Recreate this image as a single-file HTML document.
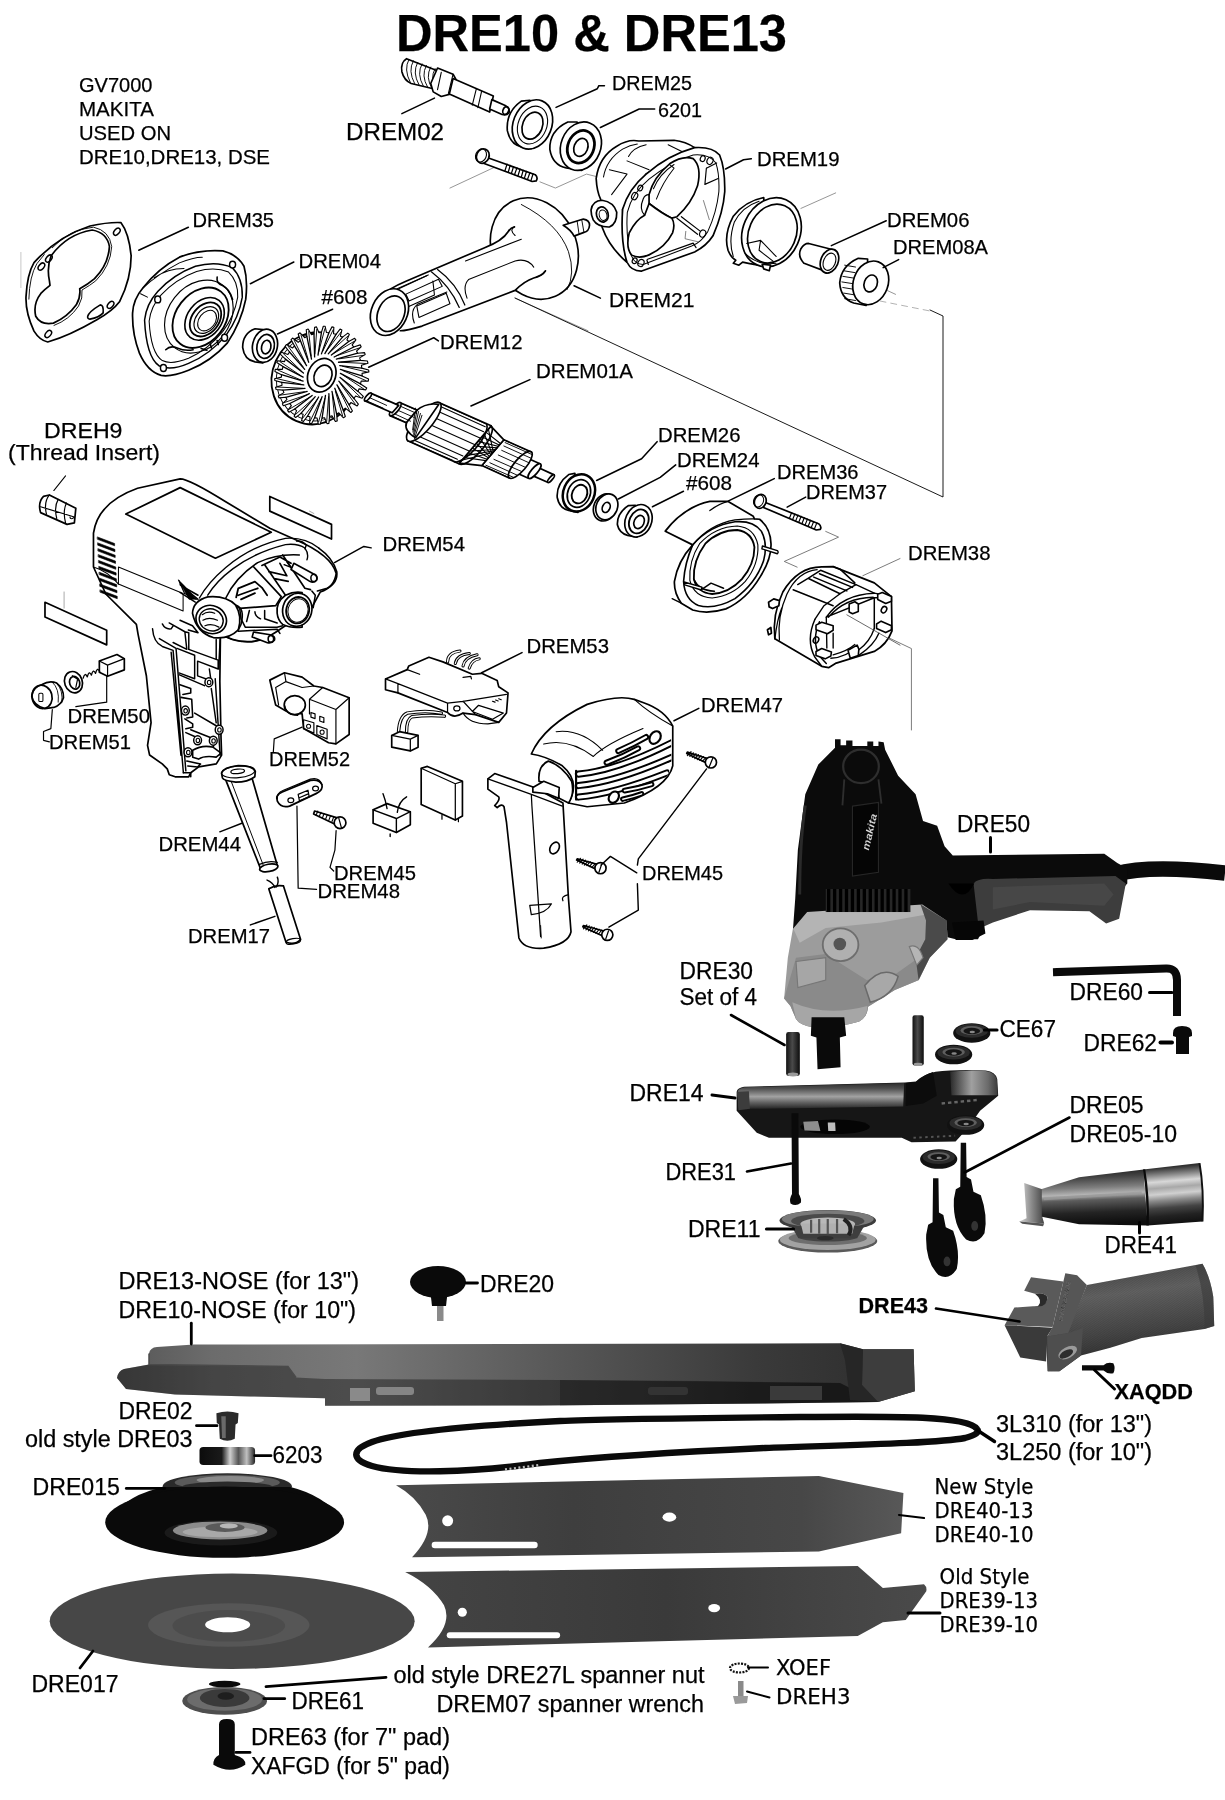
<!DOCTYPE html>
<html lang="en"><head><meta charset="utf-8"><title>DRE10 &amp; DRE13 parts diagram</title>
<style>
html,body{margin:0;padding:0;background:#fff}
body{width:1225px;height:1800px;overflow:hidden}
svg{display:block}
text{font-family:"Liberation Sans",sans-serif;fill:#000;stroke:#000;stroke-width:0.25px}
svg{will-change:transform}
.dj{font-family:"DejaVu Sans","Liberation Sans",sans-serif}
.b{font-weight:bold}
.l{stroke:#000;fill:none;stroke-linecap:round;stroke-linejoin:round}
.o{stroke:#000;fill:#fff;stroke-linejoin:round;stroke-linecap:round}
</style></head><body>
<svg width="1225" height="1800" viewBox="0 0 1225 1800">
<!-- 10_topleft.svg -->
<g transform="translate(10,200) scale(0.3102)" class="l" stroke-width="5.4">
</g><g transform="translate(10,210) scale(0.11429)" class="l" stroke-width="15">
<path class="o" d="M140,760 Q150,560 210,460 Q420,230 700,140 Q860,105 970,110 Q1040,200 1060,400 Q1060,600 960,800 Q900,880 760,960 Q520,1100 330,1155 Q260,1140 210,1060 Q135,900 140,760 Z"/>
<path class="o" d="M360,400 Q500,210 720,175 Q850,200 870,320 Q860,480 740,600 Q680,650 610,690 Q620,760 580,830 Q500,940 380,990 Q270,1010 225,930 Q200,820 270,730 Q310,690 350,660 L345,620 Q320,500 360,400 Z"/>
<path d="M370,330 Q520,170 730,150 Q870,180 890,320 Q880,490 750,620 Q700,660 630,700 Q640,770 600,840 Q520,960 385,1010 M165,780 Q170,580 235,470 L300,390" stroke-width="8"/>
<ellipse cx="935" cy="190" rx="22" ry="36" transform="rotate(40 935 190)" stroke-width="13"/>
<ellipse cx="275" cy="495" rx="22" ry="36" transform="rotate(40 275 495)" stroke-width="13"/>
<ellipse cx="340" cy="425" rx="22" ry="36" transform="rotate(40 340 425)" stroke-width="13"/>
<ellipse cx="880" cy="830" rx="22" ry="36" transform="rotate(40 880 830)" stroke-width="13"/>
<ellipse cx="335" cy="1085" rx="22" ry="36" transform="rotate(40 335 1085)" stroke-width="13"/>
<path d="M680,930 Q690,890 790,830 Q820,830 815,900 Q780,940 700,955 Q675,950 680,930 Z" stroke-width="14"/>
</g><g transform="translate(10,200) scale(0.3102)" class="l" stroke-width="5.4">
</g><g transform="translate(120,240) scale(0.11429)" class="l" stroke-width="15">
<path class="o" d="M110,640 Q115,520 200,420 Q330,250 520,150 Q700,80 900,95 Q1030,130 1085,230 Q1120,350 1100,520 Q1060,720 940,900 Q800,1060 600,1140 Q450,1200 360,1185 Q240,1150 170,990 Q105,820 110,640 Z"/>
<path d="M215,700 Q230,560 330,450 Q470,300 660,230 Q840,180 980,240 Q1075,330 1070,500 Q1040,680 930,830 Q790,1000 600,1080 Q440,1150 340,1100 Q230,1020 215,700 Z" stroke-width="13"/>
<path d="M255,710 Q270,580 360,480 Q490,340 670,275 Q830,230 950,280 Q1035,360 1030,500 Q1000,670 900,800 Q770,960 600,1035 Q450,1095 370,1055 Q270,990 255,710 Z" stroke-width="9"/>
<path d="M200,420 Q330,300 520,200 Q640,150 720,150 M300,330 Q420,250 560,250 M180,470 L240,500" stroke-width="9"/>
<ellipse cx="690" cy="670" rx="270" ry="345" transform="rotate(38 690 670)" stroke-width="10"/>
<ellipse cx="705" cy="680" rx="215" ry="290" transform="rotate(38 705 680)" stroke-width="16"/>
<ellipse cx="740" cy="690" rx="150" ry="205" transform="rotate(38 740 690)" stroke-width="14"/>
<ellipse cx="748" cy="695" rx="118" ry="165" transform="rotate(38 748 695)" stroke-width="16"/>
<ellipse cx="755" cy="700" rx="92" ry="130" transform="rotate(38 755 700)" stroke-width="10"/>
<ellipse cx="762" cy="705" rx="70" ry="100" transform="rotate(38 762 705)" stroke-width="9"/>
<path d="M850,325 Q840,380 900,400 Q960,430 985,520 M400,960 Q440,920 500,945 Q570,975 640,960 M790,910 L800,945 M850,880 L860,915 M710,950 L760,965" stroke-width="14"/>
<ellipse class="o" cx="985" cy="215" rx="26" ry="30" stroke-width="13"/>
<ellipse class="o" cx="330" cy="520" rx="26" ry="30" stroke-width="13"/>
<ellipse class="o" cx="380" cy="1120" rx="26" ry="30" stroke-width="13"/>
<ellipse class="o" cx="915" cy="855" rx="26" ry="30" stroke-width="13"/>
</g><g transform="translate(10,200) scale(0.3102)" class="l" stroke-width="5.4">
<path class="o" d="M815,418 L790,415 Q750,430 750,475 Q755,515 790,522 L815,525 Z"/>
<ellipse class="o" cx="822" cy="470" rx="40" ry="54" transform="rotate(12 822 470)"/>
<ellipse cx="824" cy="472" rx="28" ry="39" transform="rotate(12 824 472)" stroke-width="5.5"/>
<ellipse cx="826" cy="474" rx="15" ry="22" transform="rotate(12 826 474)"/>
<ellipse class="o" cx="983" cy="575" rx="138" ry="150" transform="rotate(24 983 575)" stroke-width="6"/>
<ellipse cx="993" cy="570" rx="132" ry="144" transform="rotate(24 993 570)" stroke-width="3"/>
<path class="o" d="M1122,617 L1139,633 L1135,639 L1114,632 L1109,640 L1123,658 L1119,664 L1099,653 L1093,660 L1104,680 L1099,685 L1081,671 L1074,677 L1081,698 L1075,702 L1060,686 L1053,690 L1055,712 L1049,714 L1038,696 L1030,698 L1028,720 L1022,721 L1014,702 L1006,703 L1000,723 L994,723 L990,703 L982,702 L972,721 L966,720 L967,699 L959,697 L946,714 L940,711 L945,691 L938,688 L921,701 L916,697 L924,679 L918,674 L899,684 L895,679 L907,663 L902,656 L881,663 L878,657 L893,643 L889,636 L867,638 L865,632 L883,621 L880,613 L858,611 L856,604 L877,597 L876,588 L854,582 L853,576 L875,571 L875,563 L854,553 L855,546 L878,546 L880,537 L860,524 L863,518 L885,521 L888,513 L871,497 L875,491 L896,498 L901,490 L887,472 L891,466 L911,477 L917,470 L906,450 L911,445 L929,459 L936,453 L929,432 L935,428 L950,444 L957,440 L955,418 L961,416 L972,434 L980,432 L982,410 L988,409 L996,428 L1004,427 L1010,407 L1016,407 L1020,427 L1028,428 L1038,409 L1044,410 L1043,431 L1051,433 L1064,416 L1070,419 L1065,439 L1072,442 L1089,429 L1094,433 L1086,451 L1092,456 L1111,446 L1115,451 L1103,467 L1108,474 L1129,467 L1132,473 L1117,487 L1121,494 L1143,492 L1145,498 L1127,509 L1130,517 L1152,519 L1154,526 L1133,533 L1134,542 L1156,548 L1157,554 L1135,559 L1135,567 L1156,577 L1155,584 L1132,584 L1130,593 L1150,606 L1147,612 L1125,609 Z" stroke-width="3.6"/>
<path d="M1064,572 L1122,617" stroke-width="4.2"/>
<path d="M1070,578 L1129,635" stroke-width="3"/>
<path d="M1060,584 L1109,640" stroke-width="4.2"/>
<path d="M1065,592 L1113,658" stroke-width="3"/>
<path d="M1054,596 L1093,660" stroke-width="4.2"/>
<path d="M1058,605 L1094,678" stroke-width="3"/>
<path d="M1047,607 L1074,677" stroke-width="4.2"/>
<path d="M1049,617 L1072,695" stroke-width="3"/>
<path d="M1038,617 L1053,690" stroke-width="4.2"/>
<path d="M1039,627 L1047,706" stroke-width="3"/>
<path d="M1028,624 L1030,698" stroke-width="4.2"/>
<path d="M1027,634 L1021,713" stroke-width="3"/>
<path d="M1017,630 L1006,703" stroke-width="4.2"/>
<path d="M1015,640 L995,715" stroke-width="3"/>
<path d="M1006,634 L982,702" stroke-width="4.2"/>
<path d="M1002,642 L968,712" stroke-width="3"/>
<path d="M995,635 L959,697" stroke-width="4.2"/>
<path d="M990,643 L943,704" stroke-width="3"/>
<path d="M984,634 L938,688" stroke-width="4.2"/>
<path d="M978,640 L921,691" stroke-width="3"/>
<path d="M974,630 L918,674" stroke-width="4.2"/>
<path d="M967,635 L901,674" stroke-width="3"/>
<path d="M965,624 L902,656" stroke-width="4.2"/>
<path d="M957,628 L884,653" stroke-width="3"/>
<path d="M958,617 L889,636" stroke-width="4.2"/>
<path d="M949,618 L872,629" stroke-width="3"/>
<path d="M951,607 L880,613" stroke-width="4.2"/>
<path d="M943,607 L864,603" stroke-width="3"/>
<path d="M947,596 L876,588" stroke-width="4.2"/>
<path d="M938,594 L861,576" stroke-width="3"/>
<path d="M945,584 L875,563" stroke-width="4.2"/>
<path d="M937,580 L863,548" stroke-width="3"/>
<path d="M945,571 L880,537" stroke-width="4.2"/>
<path d="M937,566 L870,521" stroke-width="3"/>
<path d="M946,558 L888,513" stroke-width="4.2"/>
<path d="M940,552 L881,495" stroke-width="3"/>
<path d="M950,546 L901,490" stroke-width="4.2"/>
<path d="M945,538 L897,472" stroke-width="3"/>
<path d="M956,534 L917,470" stroke-width="4.2"/>
<path d="M952,525 L916,452" stroke-width="3"/>
<path d="M963,523 L936,453" stroke-width="4.2"/>
<path d="M961,513 L938,435" stroke-width="3"/>
<path d="M972,513 L957,440" stroke-width="4.2"/>
<path d="M971,503 L963,424" stroke-width="3"/>
<path d="M982,506 L980,432" stroke-width="4.2"/>
<path d="M983,496 L989,417" stroke-width="3"/>
<path d="M993,500 L1004,427" stroke-width="4.2"/>
<path d="M995,490 L1015,415" stroke-width="3"/>
<path d="M1004,496 L1028,428" stroke-width="4.2"/>
<path d="M1008,488 L1042,418" stroke-width="3"/>
<path d="M1015,495 L1051,433" stroke-width="4.2"/>
<path d="M1020,487 L1067,426" stroke-width="3"/>
<path d="M1026,496 L1072,442" stroke-width="4.2"/>
<path d="M1032,490 L1089,439" stroke-width="3"/>
<path d="M1036,500 L1092,456" stroke-width="4.2"/>
<path d="M1043,495 L1109,456" stroke-width="3"/>
<path d="M1045,506 L1108,474" stroke-width="4.2"/>
<path d="M1053,502 L1126,477" stroke-width="3"/>
<path d="M1052,513 L1121,494" stroke-width="4.2"/>
<path d="M1061,512 L1138,501" stroke-width="3"/>
<path d="M1059,523 L1130,517" stroke-width="4.2"/>
<path d="M1067,523 L1146,527" stroke-width="3"/>
<path d="M1063,534 L1134,542" stroke-width="4.2"/>
<path d="M1072,536 L1149,554" stroke-width="3"/>
<path d="M1065,546 L1135,567" stroke-width="4.2"/>
<path d="M1073,550 L1147,582" stroke-width="3"/>
<path d="M1065,559 L1130,593" stroke-width="4.2"/>
<path d="M1073,564 L1140,609" stroke-width="3"/>
<ellipse class="o" cx="1005" cy="565" rx="44" ry="56" transform="rotate(24 1005 565)"/>
<ellipse cx="1009" cy="567" rx="28" ry="36" transform="rotate(24 1009 567)"/>
</g>
<!-- 12_topmid.svg -->
<g transform="translate(360,50) scale(0.3102)" class="l" stroke-width="5.4">
<path d="M290,445 L440,375 M580,425 L630,445 L730,400 L770,410 M500,800 L735,905" stroke="#777" stroke-width="2.5"/>
<path class="o" d="M150,28 Q130,40 135,70 Q142,98 165,108 L250,128 L262,72 Z"/>
<path d="M158,30 Q140,62 162,104" stroke-width="3"/>
<path d="M172,35 Q154,67 176,108" stroke-width="3"/>
<path d="M186,40 Q168,72 190,112" stroke-width="3"/>
<path d="M200,45 Q182,77 204,116" stroke-width="3"/>
<path d="M214,50 Q196,82 218,120" stroke-width="3"/>
<path d="M228,55 Q210,87 232,124" stroke-width="3"/>
<path d="M242,60 Q224,92 246,128" stroke-width="3"/>
<path class="o" d="M250,58 L300,78 L312,100 L300,140 L262,150 L236,135 L228,108 Z"/>
<path d="M262,72 L250,128 M300,78 L285,140" stroke-width="3.5"/>
<path class="o" d="M300,92 L430,148 L418,200 L288,142 Z"/>
<path d="M375,125 L362,178 M392,133 L380,186" stroke-width="3.5"/>
<path class="o" d="M425,160 L470,180 Q485,190 480,203 Q472,212 458,208 L418,190 Z"/>
<ellipse cx="470" cy="195" rx="9" ry="13" transform="rotate(24 470 195)"/>
<path class="o" d="M548,162 L520,165 Q470,200 475,260 Q485,305 520,312 L552,318 Z"/>
<ellipse class="o" cx="556" cy="240" rx="62" ry="82" transform="rotate(22 556 240)"/>
<ellipse cx="556" cy="242" rx="46" ry="63" transform="rotate(22 556 242)" stroke-width="3.5"/>
<ellipse cx="556" cy="244" rx="32" ry="45" transform="rotate(22 556 244)"/>
<path class="o" d="M700,232 L670,232 Q610,260 612,320 Q620,370 665,380 L715,388 Z"/>
<ellipse class="o" cx="712" cy="310" rx="64" ry="80" transform="rotate(22 712 310)"/>
<ellipse cx="712" cy="312" rx="42" ry="54" transform="rotate(22 712 312)" stroke-width="9"/>
<ellipse cx="712" cy="314" rx="22" ry="30" transform="rotate(22 712 314)"/>
<path class="o" d="M405,345 L565,402 Q575,412 568,422 L555,424 L398,365 Z"/>
<path d="M474,368 L467,390" stroke-width="4"/>
<path d="M484,372 L478,394" stroke-width="4"/>
<path d="M495,376 L488,398" stroke-width="4"/>
<path d="M506,380 L498,402" stroke-width="4"/>
<path d="M516,384 L509,406" stroke-width="4"/>
<path d="M526,388 L520,410" stroke-width="4"/>
<path d="M537,391 L530,413" stroke-width="4"/>
<path d="M548,395 L540,417" stroke-width="4"/>
<path d="M558,399 L551,421" stroke-width="4"/>
<ellipse class="o" cx="396" cy="342" rx="20" ry="24" transform="rotate(22 396 342)"/>
<ellipse cx="390" cy="340" rx="17" ry="22" transform="rotate(22 390 340)" stroke-width="3.5"/>
<ellipse class="o" cx="562" cy="640" rx="136" ry="168" transform="rotate(-23.8 562 640)"/>
<path d="M520,498 Q640,560 672,650 Q695,720 668,772" stroke-width="3"/>
<path d="M60,800 Q90,770 150,745 L400,638 Q460,615 478,585 Q486,572 498,570 Q530,600 560,640 Q585,680 598,712 Q585,730 560,735 Q530,745 500,775 L200,890 Q150,905 130,905 Q60,900 60,800 Z" fill="#fff" stroke="none"/>
<path d="M60,800 Q90,770 150,745 L400,638 Q460,615 478,585 Q486,572 498,570 M598,712 Q585,730 560,735 Q530,745 500,775 L200,890 Q150,905 130,905"/>
<path d="M498,570 Q480,580 500,598 M598,712 Q592,728 570,730" stroke-width="3.5"/>
<path class="o" d="M655,565 L720,545 Q740,548 740,565 Q738,585 722,588 L690,600 Q680,580 655,565 Z"/>
<path d="M700,552 L706,592 M715,548 L722,588" stroke-width="3"/>
<path d="M230,715 Q290,760 320,830 M250,708 Q310,752 338,822" stroke-width="4"/>
<path d="M340,680 L520,610 M345,800 Q330,760 350,740 L500,680 Q540,670 560,700 M120,770 L220,725 M150,830 L240,790 L235,745 M175,880 Q160,840 185,820 L280,780" stroke-width="3.5"/>
<path d="M148,787 L253,739 L265,762 L158,809 Z M183,825 L278,784 L290,818 L190,862 Z M125,770 L215,728" stroke-width="3.5"/>
<ellipse class="o" cx="95" cy="845" rx="58" ry="78" transform="rotate(24 95 845)"/>
<ellipse cx="100" cy="850" rx="42" ry="60" transform="rotate(24 100 850)"/>
</g>
<!-- 14_h19.svg -->
<g transform="translate(580,130) scale(0.14694)" class="l" stroke-width="11.5">
<path class="o" d="M110,330 Q130,180 250,110 Q330,60 400,75 L640,70 Q720,80 780,120 L450,300 L290,540 L300,800 L320,900 Q200,800 150,660 L140,470 Q115,420 110,330 Z"/>
<path d="M160,320 Q180,200 290,130 Q340,100 390,95 M200,270 L320,300 L215,440 M320,210 L470,270 M330,180 Q360,120 450,100 M600,100 L700,150" stroke-width="7"/>
<path class="o" d="M75,545 Q85,480 150,478 Q230,490 250,560 Q252,640 200,660 Q120,662 90,612 Q75,580 75,545 Z"/>
<ellipse cx="152" cy="575" rx="40" ry="52" transform="rotate(-15 152 575)"/>
<ellipse cx="157" cy="580" rx="26" ry="36" transform="rotate(-15 157 580)" stroke-width="7"/>
<path class="o" d="M290,540 Q330,400 450,300 Q600,170 780,120 Q900,112 950,170 Q988,260 985,420 Q975,560 905,720 Q860,790 780,830 L420,960 Q350,962 320,900 Q275,760 290,540 Z"/>
<path d="M322,560 Q355,430 470,335 Q620,215 770,170 Q880,160 925,225 Q950,300 945,420 Q930,560 870,690 Q830,760 760,790 L430,915 Q375,915 352,860 Q310,740 322,560 Z" stroke-width="7"/>
<path class="o" d="M470,440 Q500,320 610,230 Q700,170 770,195 Q830,250 800,380 Q760,500 660,590 L625,600 Q560,570 470,500 Z"/>
<path d="M500,400 Q540,300 640,235 M520,470 Q560,360 640,260 L610,235" stroke-width="7"/>
<path class="o" d="M440,580 Q380,610 335,700 Q310,800 350,850 Q400,880 470,850 Q580,800 630,700 Q650,640 625,600 Q560,570 470,500 Q455,540 440,580 Z"/>
<path d="M440,580 Q400,540 430,470 Q440,440 470,440" stroke-width="8"/>
<path d="M690,590 L820,690 M660,600 L800,710 M860,260 L930,225 M850,370 L940,330 M860,260 L850,370 M460,880 L770,770 L790,800 M455,885 L465,915" stroke-width="8"/>
<path d="M720,690 L715,740 L800,760 M840,480 L880,610" stroke="#555" stroke-width="5"/>
<ellipse cx="835" cy="195" rx="16" ry="20" transform="rotate(25 835 195)" stroke-width="8"/>
<ellipse cx="885" cy="210" rx="20" ry="25" transform="rotate(25 885 210)" stroke-width="8"/>
<ellipse cx="410" cy="395" rx="16" ry="20" transform="rotate(25 410 395)" stroke-width="8"/>
<ellipse cx="372" cy="450" rx="20" ry="25" transform="rotate(25 372 450)" stroke-width="8"/>
<ellipse cx="835" cy="705" rx="20" ry="25" transform="rotate(25 835 705)" stroke-width="8"/>
<ellipse cx="372" cy="890" rx="16" ry="20" transform="rotate(25 372 890)" stroke-width="8"/>
<ellipse cx="415" cy="905" rx="20" ry="25" transform="rotate(25 415 905)" stroke-width="8"/>
</g>
<!-- 16_topright.svg -->
<g transform="translate(590,120) scale(0.3102)" class="l" stroke-width="5.4">
<path d="M680,285 L792,235 M905,525 L985,562" stroke="#777" stroke-width="2.5"/>
<path class="o" d="M560,250 Q500,262 462,310 Q430,370 445,420 Q455,445 470,452 L462,462 L480,468 L492,458 Q540,470 575,468 Z"/>
<path d="M545,262 Q490,280 465,330 Q445,390 462,440" stroke-width="3.5"/>
<ellipse class="o" cx="585" cy="362" rx="92" ry="115" transform="rotate(24 585 362)"/>
<ellipse cx="588" cy="366" rx="76" ry="98" transform="rotate(24 588 366)"/>
<path d="M505,398 L550,388 L600,440 M550,388 L545,420 L590,455 M500,430 Q540,470 600,462" stroke-width="3.5"/>
<path class="o" d="M555,465 L560,480 L578,486 L582,468 Z"/>
<path class="o" d="M705,398 L790,420 L770,492 L690,462 Q668,440 680,415 Q690,398 705,398 Z"/>
<ellipse class="o" cx="772" cy="455" rx="28" ry="40" transform="rotate(22 772 455)"/>
<ellipse cx="772" cy="457" rx="19" ry="29" transform="rotate(22 772 457)" stroke-width="3.5"/>
<path class="o" d="M895,448 L865,446 Q810,470 805,525 Q808,575 850,590 L890,598 Z"/>
<path d="M821,468 L856,474" stroke-width="3"/>
<path d="M818,486 L854,492" stroke-width="3"/>
<path d="M815,504 L852,510" stroke-width="3"/>
<path d="M812,522 L850,528" stroke-width="3"/>
<path d="M815,540 L852,546" stroke-width="3"/>
<path d="M818,558 L854,564" stroke-width="3"/>
<path d="M821,576 L856,582" stroke-width="3"/>
<ellipse class="o" cx="905" cy="525" rx="56" ry="72" transform="rotate(20 905 525)"/>
<ellipse cx="905" cy="527" rx="21" ry="28" transform="rotate(20 905 527)"/>
</g>
<!-- 18_arm.svg -->
<g transform="translate(350,330) scale(0.3102)" class="l" stroke-width="5.4">
<path class="o" d="M603,442 L658,467 L637,491 L583,467 Z"/>
<ellipse class="o" cx="648" cy="479" rx="5" ry="16" transform="rotate(40.4 648 479)"/>
<path class="o" d="M569,412 L614,432 L575,478 L530,458 Z"/>
<ellipse class="o" cx="595" cy="455" rx="10" ry="30" transform="rotate(40.4 595 455)"/>
<path class="o" d="M496,354 L585,393 L513,477 L425,437 Z"/>
<ellipse class="o" cx="549" cy="435" rx="19" ry="55" transform="rotate(40.4 549 435)"/>
<path d="M499,355 L587,395" stroke-width="3"/>
<path d="M500,363 L588,402" stroke-width="3"/>
<path d="M496,374 L585,414" stroke-width="3"/>
<path d="M489,388 L577,428" stroke-width="3"/>
<path d="M478,403 L566,443" stroke-width="3"/>
<path d="M464,417 L553,456" stroke-width="3"/>
<path d="M451,428 L539,468" stroke-width="3"/>
<path d="M438,436 L527,475" stroke-width="3"/>
<path d="M428,438 L517,478" stroke-width="3"/>
<path class="o" d="M454,310 L496,354 L425,437 L352,429 Z"/>
<path d="M446,319 L462,394" stroke-width="3.5"/>
<path d="M360,420 L462,394" stroke-width="3.5"/>
<path d="M433,335 L458,399" stroke-width="3.5"/>
<path d="M373,405 L466,389" stroke-width="3.5"/>
<path d="M420,350 L454,403" stroke-width="3.5"/>
<path d="M386,390 L470,385" stroke-width="3.5"/>
<path d="M407,365 L450,408" stroke-width="3.5"/>
<path d="M399,374 L474,380" stroke-width="3.5"/>
<path d="M394,380 L446,412" stroke-width="3.5"/>
<path d="M412,359 L477,375" stroke-width="3.5"/>
<path d="M381,396 L442,417" stroke-width="3.5"/>
<path d="M425,344 L481,371" stroke-width="3.5"/>
<path d="M368,411 L438,421" stroke-width="3.5"/>
<path d="M438,329 L485,366" stroke-width="3.5"/>
<path class="o" d="M290,235 L455,309 L351,431 L186,357 Z"/>
<path d="M455,309 A27,80 40.4 0 1 351,431" />
<path d="M439,302 A27,80 40.4 0 1 336,424" />
<path d="M288,235 L434,301" stroke-width="3.5"/>
<path d="M290,246 L436,312" stroke-width="3.5"/>
<path d="M285,263 L431,328" stroke-width="3.5"/>
<path d="M273,283 L419,348" stroke-width="3.5"/>
<path d="M257,305 L403,370" stroke-width="3.5"/>
<path d="M238,325 L384,390" stroke-width="3.5"/>
<path d="M218,341 L364,406" stroke-width="3.5"/>
<path d="M200,352 L346,417" stroke-width="3.5"/>
<path d="M185,356 L332,421" stroke-width="3.5"/>
<ellipse class="o" cx="238" cy="296" rx="27" ry="80" transform="rotate(40.4 238 296)"/>
<path class="o" d="M215,259 Q246,233 286,240 L212,347 Q173,326 182,298 Z"/>
<path d="M211,252 L202,322" stroke-width="3"/>
<path d="M216,258 L203,329" stroke-width="3"/>
<path d="M221,263 L205,336" stroke-width="3"/>
<path d="M227,269 L206,343" stroke-width="3"/>
<path d="M232,275 L208,350" stroke-width="3"/>
<path class="o" d="M164,235 L216,258 L181,299 L129,276 Z"/>
<path d="M166,237 L218,260" stroke-width="3"/>
<path d="M163,246 L215,269" stroke-width="3"/>
<path d="M155,259 L207,282" stroke-width="3"/>
<path d="M143,270 L195,294" stroke-width="3"/>
<path d="M132,276 L184,299" stroke-width="3"/>
<ellipse class="o" cx="146" cy="255" rx="10" ry="27" transform="rotate(40.4 146 255)"/>
<path class="o" d="M68,204 L157,243 L136,267 L47,228 Z"/>
<ellipse class="o" cx="58" cy="216" rx="6" ry="16" transform="rotate(40.4 58 216)"/>
<path d="M69,206 L125,231" stroke-width="3"/>
<path d="M63,218 L118,243" stroke-width="3"/>
<path d="M51,227 L107,252" stroke-width="3"/>
<path class="o" d="M725,462 L705,466 Q665,495 668,540 Q675,575 705,582 L735,588 Z"/>
<ellipse class="o" cx="738" cy="525" rx="50" ry="62" transform="rotate(24 738 525)" stroke-width="8"/>
<ellipse cx="738" cy="527" rx="36" ry="46" transform="rotate(24 738 527)"/>
<ellipse cx="740" cy="529" rx="24" ry="31" transform="rotate(24 740 529)" stroke-width="6"/>
<ellipse class="o" cx="822" cy="572" rx="36" ry="45" transform="rotate(24 822 572)"/>
<ellipse class="o" cx="828" cy="570" rx="34" ry="43" transform="rotate(24 828 570)"/>
<ellipse cx="826" cy="572" rx="12" ry="17" transform="rotate(24 826 572)"/>
<path class="o" d="M920,565 L898,566 Q860,590 862,628 Q868,655 895,662 L925,668 Z"/>
<ellipse class="o" cx="930" cy="615" rx="42" ry="54" transform="rotate(24 930 615)"/>
<ellipse cx="931" cy="617" rx="30" ry="40" transform="rotate(24 931 617)" stroke-width="6"/>
<ellipse cx="932" cy="619" rx="16" ry="22" transform="rotate(24 932 619)"/>
</g>
<!-- 20_field.svg -->
<g transform="translate(650,450) scale(0.2857)" class="l" stroke-width="6">
<path d="M615,285 L660,305 L470,390 L515,410 M745,440 L875,380 M715,600 L915,695 L915,980" stroke="#666" stroke-width="3"/>
</g><g transform="translate(655,490) scale(0.11429)" class="l" stroke-width="15">
<path class="o" d="M90,360 Q250,150 480,100 L640,100 L860,230 L870,252 L915,256 Q1010,330 1015,470 Q1020,600 920,760 Q800,960 620,1040 Q460,1090 330,1050 L230,990 Q165,900 170,800 Q200,620 330,480 Z"/>
<path d="M640,100 Q560,120 480,180 M330,480 Q480,300 700,262 Q800,250 870,252 M150,950 L230,990" stroke-width="11"/>
<path d="M330,480 Q480,310 700,278 Q860,265 930,360 Q990,470 950,620 Q880,820 700,950 Q520,1050 380,1010 Q260,960 250,800 Q260,640 330,480 Z" stroke-width="14"/>
<path d="M390,470 Q530,320 720,315 Q870,330 900,480 Q910,650 790,800 Q670,930 500,945 Q340,935 305,790 Q295,620 390,470 Z" stroke-width="10"/>
<path class="o" d="M440,470 Q560,350 720,350 Q850,370 870,500 Q870,650 760,780 Q650,900 500,910 Q370,900 340,780 Q330,620 440,470 Z" stroke-width="16"/>
<path d="M410,870 L490,815 L600,860 M340,780 Q380,880 520,885" stroke-width="13"/>
<path class="o" d="M940,490 L1070,530 Q1085,545 1070,558 L935,515 Z" stroke-width="12"/>
<path class="o" d="M255,805 L410,850 L405,875 L260,830 Z" stroke-width="12"/>
</g><g transform="translate(650,450) scale(0.2857)" class="l" stroke-width="6">
<path class="o" d="M395,180 L590,258 Q602,268 596,278 L582,280 L390,198 Z"/>
<path d="M496,219 L488,239" stroke-width="4"/>
<path d="M507,224 L499,244" stroke-width="4"/>
<path d="M518,228 L510,248" stroke-width="4"/>
<path d="M529,232 L521,252" stroke-width="4"/>
<path d="M540,237 L532,257" stroke-width="4"/>
<path d="M551,242 L543,262" stroke-width="4"/>
<path d="M562,246 L554,266" stroke-width="4"/>
<path d="M573,250 L565,270" stroke-width="4"/>
<path d="M584,255 L576,275" stroke-width="4"/>
<ellipse class="o" cx="386" cy="180" rx="20" ry="25" transform="rotate(22 386 180)"/>
<ellipse cx="380" cy="178" rx="17" ry="22" transform="rotate(22 380 178)" stroke-width="3.5"/>
</g><g transform="translate(760,560) scale(0.11429)" class="l" stroke-width="15">
<path class="o" d="M540,60 L640,58 L1000,200 L1150,320 L1155,620 Q1110,740 1000,800 L660,905 L600,942 L540,930 L130,690 Q105,480 200,280 Q330,60 540,60 Z"/>
<path d="M500,85 Q330,100 235,300 Q150,490 170,700 M130,690 Q150,520 190,420" stroke-width="11"/>
<path class="o" d="M75,370 L120,340 L170,355 L165,400 L110,425 L80,410 Z"/><path class="o" d="M65,610 L95,590 L100,640 L75,655 Z"/>
<path d="M420,160 L530,90 L840,215 L700,295 Z M470,150 L760,270 M520,120 L810,240 M290,260 L640,400 M330,215 L420,160 M640,58 L700,80 L830,200" stroke-width="13"/>
<path d="M700,295 L560,400 L480,520 M840,215 L1000,290" stroke-width="12"/>
<path d="M480,520 Q400,700 480,850 L540,930 M520,540 Q450,700 520,840 L580,905" stroke-width="13"/>
<path d="M580,500 Q720,300 1000,290 L1150,320 M600,500 Q740,330 990,325 M580,500 L1000,330 L1000,600 M1000,330 L1150,330" stroke-width="13"/>
<path d="M580,500 L585,770 M640,640 L640,770 M620,860 Q760,850 840,760 M640,830 Q760,800 830,740 M1000,600 Q960,720 860,790 M1040,640 Q1000,740 870,830" stroke-width="12"/>
<path d="M760,480 L1225,745" stroke="#444" stroke-width="7"/>
<path class="o" d="M490,570 L540,545 L640,575 L640,615 L590,645 L490,610 Z" stroke-width="14"/>
<path class="o" d="M490,800 L540,775 L625,805 L620,840 L570,865 L490,835 Z" stroke-width="14"/>
<path class="o" d="M1030,300 L1070,285 L1150,320 L1150,360 L1100,380 L1030,345 Z" stroke-width="14"/>
<path class="o" d="M1020,560 L1060,535 L1150,575 L1150,610 L1100,635 L1020,600 Z" stroke-width="14"/>
<path class="o" d="M780,385 L830,365 L860,385 L860,450 L810,470 L780,455 Z" stroke-width="14"/>
<path class="o" d="M770,790 L850,745 L865,780 L860,835 L790,860 Z" stroke-width="14"/>
<ellipse cx="490" cy="700" rx="22" ry="30" transform="rotate(30 490 700)" stroke-width="13"/>
<ellipse cx="1085" cy="435" rx="22" ry="30" transform="rotate(30 1085 435)" stroke-width="13"/>
</g>
<!-- 22_housing.svg -->
<g transform="translate(20,470) scale(0.29388)" class="l" stroke-width="5.8">
<path class="o" d="M850,90 L1060,185 L1060,235 L850,140 Z"/>
<path class="o" d="M85,450 L295,545 L295,595 L85,500 Z"/>
<path d="M150,415 L150,470 M985,140 L1000,148" stroke="#888" stroke-width="2.5"/>
<path class="o" d="M80,90 Q60,110 70,145 L160,185 L185,180 L190,130 L100,85 Z"/>
<path d="M100,85 Q80,110 90,150 M130,100 Q115,125 125,165 M158,112 Q145,140 155,180 M70,125 L185,160 M170,160 a6,6 0 1 0 12,0" stroke-width="4"/>
<path class="o" d="M250,215 Q265,110 400,62 L545,30 Q575,30 700,108 L850,198 L940,238 Q1060,290 1076,352 Q1070,400 1022,415 L992,470 L870,552 Q800,600 722,576 L682,560 L680,720 L684,910 L686,970 L668,1000 L608,1010 L581,1030 L574,1044 L528,1044 L508,1037 L501,1017 L484,1000 L441,970 L434,937 L446,860 L430,700 L402,560 L396,525 L292,422 L250,330 Z"/>
<path d="M360,150 L545,60 L855,212 L665,300 Z"/>
<path d="M264,228 L322,250 L322,258 L264,236 Z" fill="#000" stroke-width="2"/>
<path d="M265,248 L323,270 L323,278 L265,256 Z" fill="#000" stroke-width="2"/>
<path d="M266,268 L324,290 L324,298 L266,276 Z" fill="#000" stroke-width="2"/>
<path d="M267,288 L325,310 L325,318 L267,296 Z" fill="#000" stroke-width="2"/>
<path d="M268,308 L326,330 L326,338 L268,316 Z" fill="#000" stroke-width="2"/>
<path d="M269,328 L327,350 L327,358 L269,336 Z" fill="#000" stroke-width="2"/>
<path d="M270,348 L328,370 L328,378 L270,356 Z" fill="#000" stroke-width="2"/>
<path d="M271,368 L329,390 L329,398 L271,376 Z" fill="#000" stroke-width="2"/>
<path d="M272,388 L330,410 L330,418 L272,396 Z" fill="#000" stroke-width="2"/>
<path d="M273,408 L331,430 L331,438 L273,416 Z" fill="#000" stroke-width="2"/>
<path d="M335,330 L555,420 L555,480 L335,388 Z" stroke-width="3.5"/>
<path d="M250,330 Q300,345 335,388 M540,375 L560,420 L600,440" stroke-width="4"/>
<path d="M540,375 L575,440 L600,440 L560,395 Z" fill="#000" stroke-width="2"/>
</g><g transform="translate(180,530) scale(0.13878)" class="l" stroke-width="12">
<path d="M140,490 Q200,380 330,270 Q520,110 760,60 Q900,50 1000,130 M200,470 Q260,370 380,280 Q540,160 760,105 Q850,95 900,130 Q930,170 915,215" stroke-width="10"/>
<path d="M330,490 Q400,340 560,235 Q700,170 860,180" stroke-width="11"/>
<path d="M840,80 Q880,75 910,110 L900,135 M0,395 Q60,440 130,500 M0,450 L110,520" stroke-width="10"/>
<path d="M530,265 L730,480 L690,545 L430,565 L400,545" stroke-width="12"/>
<path d="M405,485 L420,420 L540,372 L590,415 L628,470 M420,470 L560,420 M440,500 L540,455" stroke-width="13"/>
<path d="M590,255 L720,195 L800,240 M640,300 L770,330 L720,240 M680,350 L780,370 M610,250 L760,470 M740,180 L900,420 L940,430" stroke-width="12"/>
<path d="M750,250 L800,270 L770,230" stroke-width="10"/>
<path d="M430,565 L440,640 L470,700 L700,700 L740,690 M500,580 L480,660 M540,590 Q540,620 580,640 M610,580 L610,640 L700,670" stroke-width="11"/>
<path d="M420,730 L700,715 L720,745 M330,770 Q450,830 600,790" stroke-width="11"/>
<path class="o" d="M820,240 L960,315 Q995,330 985,360 Q965,385 935,370 L800,285 Z"/>
<ellipse cx="965" cy="345" rx="22" ry="26" stroke-width="11"/>
<path class="o" d="M530,735 L650,755 Q690,765 680,795 Q660,820 630,812 L520,770 Z"/>
<ellipse cx="655" cy="785" rx="20" ry="24" stroke-width="11"/>
<path d="M950,440 L975,470 L960,560 M990,440 L1060,420 Q1140,380 1130,300 Q1100,200 1000,130" stroke-width="11"/>
<path class="o" d="M700,600 Q690,520 760,470 Q820,440 880,450 L880,700 Q800,710 740,680 Q705,650 700,600 Z"/>
<ellipse class="o" cx="845" cy="575" rx="105" ry="120" transform="rotate(15 845 575)"/>
<ellipse cx="848" cy="578" rx="82" ry="96" transform="rotate(15 848 578)" stroke-width="13"/>
<ellipse cx="850" cy="580" rx="72" ry="85" transform="rotate(15 850 580)" stroke-width="7"/>
<path class="o" d="M90,600 Q95,510 200,482 Q330,470 400,540 Q450,620 420,720 Q350,790 240,775 Q120,740 90,600 Z"/>
<ellipse class="o" cx="225" cy="645" rx="112" ry="100" transform="rotate(25 225 645)"/>
<ellipse cx="225" cy="648" rx="88" ry="78" transform="rotate(25 225 648)" stroke-width="10"/>
<path d="M160,610 Q200,580 250,600 M165,650 Q210,625 270,650 M180,690 Q230,670 280,700" stroke-width="9"/>
<path d="M400,540 Q470,560 440,680 L420,720" stroke-width="11"/>
<path d="M0,380 L40,420 L130,470 M0,650 L90,690 L130,740 L60,720" stroke-width="11"/>
</g><g transform="translate(20,470) scale(0.29388)" class="l" stroke-width="5.8">
</g><g transform="translate(130,620) scale(0.09796)" class="l" stroke-width="17">
<path d="M230,90 Q240,230 330,270 L440,310 L545,1560 M300,190 L470,290 L570,1540 M420,330 L520,1380" stroke-width="15"/>
<path d="M330,40 Q360,100 420,90 L440,60 M400,30 L560,120 L580,300 L440,230 M560,120 L600,130 L600,300" stroke-width="15"/>
<path d="M480,290 L660,360 L660,600 L500,540 M600,300 L900,410 L900,500 L690,420 M690,420 L690,570 L800,610 M880,200 L880,400 M920,200 L905,500 M810,500 L830,640 M870,600 L920,1380 M830,700 L880,1050" stroke-width="15"/>
<path d="M505,560 L760,670 M510,660 L620,700 L620,745 L540,760 M520,790 L630,810 L640,990 L580,1000 M560,1010 L640,1060 L640,1095 L570,1110 M660,950 L880,1080 M620,1120 L820,1200 M570,1150 L660,1190" stroke-width="16"/>
<path d="M640,1330 Q740,1270 850,1300 L930,1360 L880,1400 Q760,1380 700,1420 M640,1330 L640,1400 L700,1420 M580,1440 L720,1470 L690,1500 L590,1490 M545,1560 L620,1560 L620,1600 M850,1300 L860,1240" stroke-width="16"/>
<ellipse class="o" cx="805" cy="635" rx="40" ry="46" stroke-width="15"/>
<ellipse cx="808" cy="637" rx="18" ry="22" stroke-width="11"/>
<ellipse class="o" cx="565" cy="925" rx="40" ry="46" stroke-width="15"/>
<ellipse cx="568" cy="927" rx="18" ry="22" stroke-width="11"/>
<ellipse class="o" cx="910" cy="1120" rx="40" ry="46" stroke-width="15"/>
<ellipse cx="913" cy="1122" rx="18" ry="22" stroke-width="11"/>
<ellipse class="o" cx="690" cy="1228" rx="40" ry="46" stroke-width="15"/>
<ellipse cx="693" cy="1230" rx="18" ry="22" stroke-width="11"/>
<ellipse class="o" cx="850" cy="1232" rx="40" ry="46" stroke-width="15"/>
<ellipse cx="853" cy="1234" rx="18" ry="22" stroke-width="11"/>
<ellipse class="o" cx="592" cy="1350" rx="40" ry="46" stroke-width="15"/>
<ellipse cx="595" cy="1352" rx="18" ry="22" stroke-width="11"/>
</g><g transform="translate(20,470) scale(0.29388)" class="l" stroke-width="5.8">
<path class="o" d="M270,650 L330,628 L355,642 L355,680 L298,702 L270,688 Z"/>
<path d="M270,650 L298,664 L355,642 M298,664 L298,702" stroke-width="4"/>
<path d="M215,708 q6,-22 14,-4 q6,-24 14,-6 q6,-24 14,-6 q6,-24 14,-6" stroke-width="4.5"/>
<ellipse class="o" cx="182" cy="722" rx="30" ry="37" transform="rotate(-20 182 722)"/>
<ellipse cx="186" cy="724" rx="17" ry="22" transform="rotate(-20 186 724)"/>
<path d="M178,700 L196,712 L190,740" stroke-width="4"/>
<path class="o" d="M75,730 Q100,715 125,725 Q150,745 148,775 Q140,800 115,808 L85,812 Q45,800 40,770 Q42,740 75,730 Z"/>
<ellipse cx="75" cy="772" rx="34" ry="40" transform="rotate(-15 75 772)"/>
<rect x="64" y="760" width="14" height="28" rx="4" stroke-width="3.5"/>
<path d="M110,722 Q135,745 130,790 M125,726 Q148,750 142,792" stroke-width="3"/>
<path class="o" d="M850,715 L900,690 L960,705 L1000,735 L1030,740 L1120,775 L1120,900 L1075,932 L1050,928 L965,880 L960,830 L905,820 L870,800 Z"/>
<path d="M900,690 L905,720 L960,740 L1000,735 M905,720 L870,740 M1030,740 L985,780 L985,830 M985,780 L1075,815 L1120,775 M1075,815 L1075,932 M870,740 L880,800" stroke-width="4"/>
<ellipse class="o" cx="935" cy="800" rx="36" ry="32"/>
<path d="M900,800 Q905,835 945,835" stroke-width="4"/>
<path d="M965,850 L1000,860 L1000,895 L965,880 Z M1010,870 L1045,882 L1045,915 L1010,900 Z M990,825 l14,5 l0,16 l-14,-5 Z M1020,838 l14,5 l0,16 l-14,-5 Z" stroke-width="4"/>
<circle cx="982" cy="872" r="7" stroke-width="3.5"/><circle cx="1028" cy="892" r="7" stroke-width="3.5"/>
</g>
<!-- 24_rearcover.svg -->
<g transform="translate(370,620) scale(0.3102)" class="l" stroke-width="5.4">
<path d="M250,135 Q250,105 290,100 M275,140 Q280,112 320,108 M300,148 Q305,120 345,112 M320,155 Q328,128 352,125" stroke-width="10"/>
<path d="M250,135 Q250,105 290,100 M275,140 Q280,112 320,108 M300,148 Q305,120 345,112 M320,155 Q328,128 352,125" stroke="#fff" stroke-width="4"/>
<path d="M230,300 Q180,290 120,300 Q95,310 92,360 M240,310 Q190,305 135,312 Q118,320 118,360" stroke-width="11"/>
<path d="M230,300 Q180,290 120,300 Q95,310 92,360 M240,310 Q190,305 135,312 Q118,320 118,360" stroke="#fff" stroke-width="4.5"/>
<path class="o" d="M50,190 L120,160 L125,148 L190,120 L235,135 L330,175 L360,172 L410,195 L415,215 L445,235 L440,300 L415,330 L340,305 L300,300 Q270,320 250,298 L90,235 L50,225 Z"/>
<path d="M50,190 L90,205 L250,268 L300,262 L440,240 M90,205 L90,235 M250,268 L250,298 M120,160 L160,175 M300,262 L340,305 M300,185 L325,182 L327,190 M330,295 L395,320 L430,300 L350,275 Z M395,262 l8,3 M405,258 l8,3 M415,254 l8,3 M270,285 a10,8 0 1 0 20,0 a10,8 0 1 0 -20,0" stroke-width="4"/>
<path d="M300,300 Q320,335 380,335 L415,330" stroke-width="4"/>
<path class="o" d="M70,372 L95,360 L155,372 L155,410 L130,422 L70,410 Z"/>
<path d="M70,372 L130,384 L155,372 M130,384 L130,422" stroke-width="4"/>
<path class="o" d="M165,478 L185,472 L298,520 L298,632 L275,645 L165,595 Z"/>
<path d="M165,478 L275,528 L298,520 M275,528 L275,645 M232,628 l0,14 M285,640 l0,10" stroke-width="4"/>
<path class="o" d="M10,612 L55,592 L130,618 L130,660 L85,685 L10,655 Z"/>
<path d="M10,612 L85,640 L130,618 M85,640 L85,685 M55,608 Q50,580 42,560 M88,620 Q92,585 118,570 M65,690 l0,8" stroke-width="4.5"/>
<path class="o" d="M380,512 L402,495 L530,540 L622,590 L640,900 L648,1005 Q640,1045 560,1058 Q495,1062 480,1025 L440,652 L432,602 Q425,590 410,605 L402,598 Q420,580 415,570 L380,545 Z"/>
<path d="M380,512 L520,562 L620,600 M520,562 L522,600 L550,1020 M622,905 Q615,890 640,885" stroke-width="4"/>
<ellipse cx="595" cy="735" rx="14" ry="20" transform="rotate(30 595 735)"/>
<path d="M515,920 L585,915 Q570,945 520,950 Z" stroke-width="4"/>
<path d="M550,985 l2,40" stroke-width="3"/>
<path class="o" d="M520,432 Q560,340 700,272 Q800,240 852,256 L880,266 Q950,290 976,342 L976,470 Q960,540 820,590 L700,602 L640,590 Q680,520 620,470 Q570,440 520,432 Z"/>
<path d="M852,256 Q900,300 976,342 M560,400 Q640,380 720,440 M600,360 Q680,350 750,420 M720,440 Q760,400 880,350" stroke-width="3.5"/>
<path class="o" d="M545,520 Q540,470 575,455 Q620,470 650,520 Q660,560 640,590 L610,575 Q600,530 545,520 Z"/>
<path class="o" d="M525,540 L560,520 L610,540 L608,575 L572,560 L525,555 Z"/>
</g><g transform="translate(480,690) scale(0.1796)" class="l" stroke-width="13">
<clipPath id="domeclip"><path d="M500,400 L620,60 L840,35 L880,60 Q1040,110 1063,200 L1066,400 Q1056,500 960,560 Q860,620 720,640 L560,640 L520,600 Z"/></clipPath>
<g clip-path="url(#domeclip)">
<path d="M548,468 Q760,450 1075,290" stroke-width="40"/>
<path d="M548,468 Q760,450 1075,290" stroke="#fff" stroke-width="18"/>
<path d="M548,532 Q760,512 1075,372" stroke-width="40"/>
<path d="M548,532 Q760,512 1075,372" stroke="#fff" stroke-width="18"/>
<path d="M548,596 Q740,580 1040,462" stroke-width="40"/>
<path d="M548,596 Q740,580 1040,462" stroke="#fff" stroke-width="18"/>
<path d="M770,340 Q850,305 925,262" stroke-width="34"/>
<path d="M770,340 Q850,305 925,262" stroke="#fff" stroke-width="12"/>
<path d="M705,405 Q800,370 880,325" stroke-width="34"/>
<path d="M705,405 Q800,370 880,325" stroke="#fff" stroke-width="12"/>
<path d="M805,560 Q880,548 955,525" stroke-width="32"/>
<path d="M805,560 Q880,548 955,525" stroke="#fff" stroke-width="10"/>
<path d="M795,608 Q850,596 900,578" stroke-width="30"/>
<path d="M795,608 Q850,596 900,578" stroke="#fff" stroke-width="8"/>
</g>
<path d="M535,450 L535,610" stroke-width="12"/>
<ellipse class="o" cx="975" cy="265" rx="28" ry="38" transform="rotate(35 975 265)" stroke-width="12"/>
<ellipse class="o" cx="745" cy="597" rx="26" ry="34" transform="rotate(35 745 597)" stroke-width="12"/>
</g><g transform="translate(370,620) scale(0.3102)" class="l" stroke-width="5.4">
<path class="o" d="M1021,430 L1089,463 L1095,449 L1023,426 Z"/>
<path d="M1023,437 L1035,424" stroke-width="3.5"/>
<path d="M1031,440 L1043,428" stroke-width="3.5"/>
<path d="M1039,443 L1051,431" stroke-width="3.5"/>
<path d="M1047,447 L1059,434" stroke-width="3.5"/>
<path d="M1055,450 L1067,437" stroke-width="3.5"/>
<path d="M1063,453 L1075,440" stroke-width="3.5"/>
<path d="M1071,456 L1083,444" stroke-width="3.5"/>
<circle class="o" cx="1099" cy="459" r="18"/>
<path d="M1105,446 L1094,472" stroke-width="4"/>
<path class="o" d="M666,774 L732,805 L738,789 L668,770 Z"/>
<path d="M668,781 L679,768" stroke-width="3.5"/>
<path d="M676,784 L687,771" stroke-width="3.5"/>
<path d="M684,787 L695,774" stroke-width="3.5"/>
<path d="M691,790 L703,777" stroke-width="3.5"/>
<path d="M699,792 L710,779" stroke-width="3.5"/>
<path d="M707,795 L718,782" stroke-width="3.5"/>
<path d="M715,798 L726,785" stroke-width="3.5"/>
<circle class="o" cx="743" cy="800" r="18"/>
<path d="M747,787 L738,813" stroke-width="4"/>
<path class="o" d="M686,989 L754,1020 L760,1004 L688,985 Z"/>
<path d="M688,996 L699,983" stroke-width="3.5"/>
<path d="M696,999 L707,986" stroke-width="3.5"/>
<path d="M704,1002 L715,989" stroke-width="3.5"/>
<path d="M712,1005 L723,991" stroke-width="3.5"/>
<path d="M720,1007 L731,994" stroke-width="3.5"/>
<path d="M728,1010 L739,997" stroke-width="3.5"/>
<path d="M736,1013 L747,1000" stroke-width="3.5"/>
<circle class="o" cx="765" cy="1015" r="18"/>
<path d="M769,1002 L760,1028" stroke-width="4"/>
</g>
<!-- 26_botleft.svg -->
<g transform="translate(150,740) scale(0.2449)" class="l" stroke-width="7">
<path class="o" d="M310,165 L450,522 Q485,540 520,512 L415,150 Z"/>
<path d="M330,165 L462,510" stroke-width="4"/>
<ellipse class="o" cx="485" cy="522" rx="38" ry="15" transform="rotate(-10 485 522)"/>
<path d="M447,508 Q485,490 520,500" stroke-width="5"/>
<path class="o" d="M292,135 Q300,112 360,105 Q420,105 430,128 L428,150 Q400,172 350,172 Q300,165 296,155 Z"/>
<ellipse cx="360" cy="130" rx="68" ry="24" transform="rotate(-5 360 130)" stroke-width="5"/>
<ellipse cx="358" cy="128" rx="28" ry="9" transform="rotate(-5 358 128)" stroke-width="5"/>
<path class="o" d="M485,607 Q515,590 545,596 L615,815 Q590,840 555,825 Z"/>
<ellipse cx="585" cy="822" rx="30" ry="11" transform="rotate(-10 585 822)" stroke-width="5"/>
<path d="M478,572 Q500,580 510,602 M520,560 Q528,580 516,600" stroke-width="6"/>
<path class="o" d="M520,250 Q510,225 540,212 L655,165 Q690,158 702,182 Q708,205 680,218 L570,270 Q535,280 520,250 Z"/>
<path d="M520,240 Q515,218 545,205 L655,160 Q690,150 702,182" stroke-width="5"/>
<ellipse cx="575" cy="246" rx="12" ry="10" stroke-width="5"/><ellipse cx="676" cy="198" rx="12" ry="10" stroke-width="5"/>
<path d="M605,222 L645,205 L650,232 L610,248 Z M612,235 L646,220" stroke-width="5"/>
<path class="o" d="M672,290 L765,318 L758,345 L668,302 Z"/>
<path d="M685,290 L678,308" stroke-width="4.5"/>
<path d="M698,295 L691,313" stroke-width="4.5"/>
<path d="M711,300 L704,318" stroke-width="4.5"/>
<path d="M724,305 L717,323" stroke-width="4.5"/>
<path d="M737,310 L730,328" stroke-width="4.5"/>
<path d="M750,315 L743,333" stroke-width="4.5"/>
<circle class="o" cx="776" cy="338" r="24"/>
<path d="M770,316 L782,360" stroke-width="5"/>
</g>
<!-- 50_polisher.svg -->
<g transform="translate(770,720) scale(0.37143)">
<!-- cord -->
<path d="M930,415 C1000,395 1100,398 1225,412" stroke="#0a0a0a" stroke-width="42" fill="none"/>
<!-- gear housing (gray) -->
<path d="M62,560 L100,515 L410,495 L475,540 L478,590 L430,640 L401,700 L336,727 L264,772 Q262,800 240,812 Q180,830 116,827 Q80,822 70,805 L55,770 L38,750 L48,640 Z" fill="#9c9c9c"/>
<path d="M70,640 L150,630 L260,700 L330,690 L400,640 L401,700 L336,727 L264,772 Q262,800 240,812 Q180,830 116,827 Q80,822 70,805 L55,770 L38,750 Z" fill="#8a8a8a"/>
<path d="M60,760 Q150,800 262,770 Q262,800 240,812 Q180,830 116,827 Q80,822 70,805 Z" fill="#a6a6a6"/>
<path d="M62,560 L100,515 L410,495 L440,520 L300,545 L150,560 L80,600 Z" fill="#b4b4b4"/>
<path d="M255,715 Q300,660 345,690 Q330,745 270,760 Z" fill="#a8a8a8" stroke="#6a6a6a" stroke-width="4"/>
<path d="M70,650 L150,640 L150,700 L75,720 Z" fill="#a6a6a6" stroke="#777" stroke-width="3"/>
<path d="M405,496 L475,540 L478,590 L430,640 L400,700 L392,640 L418,590 L420,540 Z" fill="#4a4a4a"/>
<ellipse cx="190" cy="605" rx="48" ry="44" fill="#b0b0b0" stroke="#6e6e6e" stroke-width="5"/>
<circle cx="188" cy="603" r="17" fill="#555"/>
<path d="M375,610 Q400,600 412,640 L395,660 Z" fill="#b5b5b5" stroke="#777" stroke-width="3"/>
<!-- motor housing (black) -->
<path d="M175,75 L175,52 L190,52 L190,68 L205,68 L205,55 L222,55 L222,70 L262,70 L262,58 L278,58 L278,70 L292,70 L292,58 L306,60 L310,80 L345,150 L392,200 L412,272 L450,285 L470,340 L492,365 L900,360 L935,385 L962,400 L962,440 L935,470 L560,470 L575,560 L560,590 L500,590 L478,585 L475,540 L410,497 L100,517 L62,562 L68,480 L75,350 L95,200 L130,120 Z" fill="#0b0b0b"/>
<!-- grip (dark gray) -->
<path d="M548,440 Q560,425 600,428 L930,420 L958,440 L940,535 L905,548 L860,515 L700,512 L600,545 L562,562 Z" fill="#3d3d3d"/>
<path d="M600,450 L900,440 L925,470 L900,500 L700,490 L600,510 Z" fill="#474747"/>
<path d="M480,440 Q520,500 550,440 Z" fill="#000"/>
<path d="M490,545 L575,540 L580,575 L545,592 L500,592 Z" fill="#060606"/>
<!-- details -->
<ellipse cx="245" cy="125" rx="48" ry="45" fill="none" stroke="#2e2e2e" stroke-width="6"/>
<path d="M200,160 L195,230 M292,160 L300,225" stroke="#2e2e2e" stroke-width="5" fill="none"/>
<path d="M95,230 Q80,330 80,470" stroke="#2a2a2a" stroke-width="8" fill="none"/>
<rect x="150" y="455" width="228" height="62" fill="#262626"/>
<path d="M158,455V517M174,455V517M190,455V517M206,455V517M222,455V517M238,455V517M254,455V517M270,455V517M286,455V517M302,455V517M318,455V517M334,455V517M350,455V517M366,455V517" stroke="#000" stroke-width="9"/>
<path d="M222,232 L292,222 L292,410 L222,420 Z" fill="#050505" stroke="#262626" stroke-width="3"/>
<text transform="translate(266,352) rotate(-77)" font-size="27" font-weight="bold" font-style="italic" fill="#ddd" style="fill:#ddd" textLength="100" lengthAdjust="spacingAndGlyphs">makita</text>
<!-- spindle -->
<path d="M112,800 L200,800 L205,850 L188,855 L190,935 L128,940 L125,855 L110,850 Z" fill="#0a0a0a"/>
</g>

<!-- 52_plate.svg -->
<defs>
<linearGradient id="gSide" x1="0" y1="0" x2="0" y2="1"><stop offset="0" stop-color="#2c2c2c"/><stop offset="0.2" stop-color="#4e4e4e"/><stop offset="0.5" stop-color="#a2a2a2"/><stop offset="0.72" stop-color="#606060"/><stop offset="1" stop-color="#161616"/></linearGradient>
<linearGradient id="gBoss" x1="0" y1="0" x2="1" y2="0"><stop offset="0" stop-color="#2a2a2a"/><stop offset="0.45" stop-color="#a0a0a0"/><stop offset="0.8" stop-color="#6a6a6a"/><stop offset="1" stop-color="#3a3a3a"/></linearGradient>
<linearGradient id="gCyl" x1="0" y1="0" x2="1" y2="0"><stop offset="0" stop-color="#111"/><stop offset="0.45" stop-color="#4a4a4a"/><stop offset="1" stop-color="#0c0c0c"/></linearGradient>
<radialGradient id="gPul" cx="0.5" cy="0.5" r="0.6"><stop offset="0" stop-color="#8a8a8a"/><stop offset="0.6" stop-color="#c8c8c8"/><stop offset="1" stop-color="#777"/></radialGradient>
<g id="brg"><ellipse cx="0" cy="0" rx="76" ry="40" fill="#111"/><ellipse cx="0" cy="-8" rx="66" ry="28" fill="#2b2b2b"/><ellipse cx="0" cy="-10" rx="46" ry="18" fill="#5e5e5e"/><ellipse cx="0" cy="-8" rx="34" ry="13" fill="#151515"/><ellipse cx="2" cy="-4" rx="11" ry="5" fill="#888"/></g>
<g id="cst"><path d="M-12,0 L10,0 L12,140 L30,150 L40,200 L70,215 Q100,300 85,370 Q55,420 10,395 Q-45,340 -40,230 L-32,190 L-14,180 Z" fill="#0a0a0a"/><ellipse cx="45" cy="340" rx="14" ry="20" fill="#333"/></g>
</defs>
<g transform="translate(720,1030) scale(0.2449)">
<!-- spacers + spindle bottom -->
<rect x="270" y="8" width="56" height="180" rx="10" fill="url(#gCyl)"/>
<ellipse cx="298" cy="182" rx="22" ry="8" fill="#9a9a9a"/>
<rect x="786" y="-60" width="46" height="205" rx="9" fill="url(#gCyl)"/>
<ellipse cx="809" cy="140" rx="18" ry="6" fill="#999"/>
<!-- CE67 bearings -->

<use href="#brg" x="1028" y="12"/>
<use href="#brg" x="954" y="100"/>
<!-- plate -->
<path d="M68,252 Q72,236 98,232 L755,214 L800,210 Q830,180 880,170 Q960,160 1085,165 Q1125,170 1132,200 L1136,268 L1062,330 L1012,400 L962,455 L782,458 L742,440 L200,440 L150,420 L68,330 Z" fill="#161616"/>
<path d="M72,252 Q76,238 100,234 L752,216 L748,312 L122,322 L75,328 Z" fill="url(#gSide)"/>
<path d="M72,252 L118,250 L122,322 L75,328 Z" fill="#3c3c3c"/>
<path d="M940,170 Q1020,162 1085,167 Q1122,172 1130,200 L1134,266 L945,266 Z" fill="url(#gBoss)"/>
<path d="M760,216 L800,212 Q830,185 870,172 L885,268 L830,300 L758,310 Z" fill="#0c0c0c"/>
<ellipse cx="470" cy="395" rx="142" ry="30" fill="#050505"/>
<path d="M340,375 L400,372 L410,412 L345,410 Z" fill="#8e8e8e"/>
<path d="M440,378 L470,378 L472,412 L442,412 Z" fill="#bdbdbd"/>
<path d="M905,300 L1060,285" stroke="#666" stroke-width="10" stroke-dasharray="14 12" fill="none"/>
<path d="M790,440 L960,432" stroke="#555" stroke-width="8" stroke-dasharray="10 14" fill="none"/>
<use href="#brg" x="1003" y="388"/>
<use href="#brg" x="893" y="527"/>
<!-- DRE31 bolt -->
<path d="M292,340 L320,340 L322,670 Q334,690 330,705 Q310,722 288,708 Q282,690 294,670 Z" fill="#0a0a0a"/>
<!-- DRE11 pulley -->
<ellipse cx="440" cy="862" rx="202" ry="47" fill="#5a5a5a"/>
<ellipse cx="440" cy="856" rx="196" ry="42" fill="#a2a2a2"/>
<ellipse cx="440" cy="850" rx="160" ry="28" fill="#6e6e6e"/>
<ellipse cx="440" cy="846" rx="120" ry="18" fill="#444"/>
<path d="M285,790 L595,790 L560,850 L320,850 Z" fill="#3e3e3e"/>
<ellipse cx="440" cy="778" rx="197" ry="43" fill="#3c3c3c"/>
<ellipse cx="440" cy="772" rx="188" ry="36" fill="#7a7a7a"/>
<ellipse cx="440" cy="780" rx="150" ry="30" fill="#4a4a4a"/>
<ellipse cx="440" cy="792" rx="112" ry="26" fill="#b8b8b8"/>
<path d="M330,790 L550,790 L540,832 L340,832 Z" fill="#b0b0b0"/>
<path d="M372,775 L372,828 M405,772 L405,832 M440,772 L440,834 M478,772 L478,830" stroke="#555" stroke-width="9"/>
<path d="M505,772 Q548,800 525,838" stroke="#222" stroke-width="16" fill="none"/>
<ellipse cx="430" cy="850" rx="34" ry="9" fill="#2c2c2c"/>
<!-- DRE05 casters -->

<use href="#cst" x="995" y="460"/>
<use href="#cst" x="882" y="605"/>
</g>
<!-- DRE60 wrench, DRE62 plug -->
<path d="M1057,972 L1166,968.5 Q1177,968 1177,980 L1177,1012" stroke="#0a0a0a" stroke-width="8" fill="none" stroke-linecap="square"/>
<path d="M1173,1033 Q1173,1026 1182,1026 Q1192,1026 1192,1033 L1192,1036 L1189,1037 L1189,1054 L1176,1054 L1176,1037 L1173,1036 Z" fill="#0a0a0a"/>

<!-- 54_tubes.svg -->
<defs>
<linearGradient id="gT1" x1="0" y1="0" x2="0.08" y2="1"><stop offset="0" stop-color="#1a1a1a"/><stop offset="0.1" stop-color="#333"/><stop offset="0.22" stop-color="#8c8c8c"/><stop offset="0.32" stop-color="#d8d8d8"/><stop offset="0.42" stop-color="#a8a8a8"/><stop offset="0.52" stop-color="#d0d0d0"/><stop offset="0.62" stop-color="#8a8a8a"/><stop offset="0.74" stop-color="#444"/><stop offset="0.87" stop-color="#222"/><stop offset="1" stop-color="#111"/></linearGradient>
<linearGradient id="gT2" x1="0" y1="0" x2="0.08" y2="1"><stop offset="0" stop-color="#151515"/><stop offset="0.18" stop-color="#444"/><stop offset="0.36" stop-color="#7e7e7e"/><stop offset="0.48" stop-color="#b4b4b4"/><stop offset="0.58" stop-color="#5c5c5c"/><stop offset="0.8" stop-color="#242424"/><stop offset="1" stop-color="#0e0e0e"/></linearGradient>
<linearGradient id="gFl" x1="0" y1="0" x2="1" y2="0"><stop offset="0" stop-color="#d8d8d8"/><stop offset="0.5" stop-color="#8a8a8a"/><stop offset="1" stop-color="#444"/></linearGradient>
<linearGradient id="gN1" x1="0" y1="0" x2="0.2" y2="1"><stop offset="0" stop-color="#3e3e3e"/><stop offset="0.35" stop-color="#626262"/><stop offset="0.7" stop-color="#464646"/><stop offset="1" stop-color="#2a2a2a"/></linearGradient>
<pattern id="hatch" width="9" height="9" patternUnits="userSpaceOnUse" patternTransform="rotate(-35)"><rect width="9" height="9" fill="none"/><rect width="9" height="3" fill="#000" opacity="0.13"/></pattern>
</defs>
<g transform="translate(985,1140) scale(0.19592)">
<!-- DRE41 -->
<path d="M200,220 L292,252 L292,390 L302,426 L175,416 L212,400 Z" fill="url(#gFl)"/>
<path d="M175,416 L302,426 L296,440 L190,428 Z" fill="#555"/>
<path d="M290,250 L480,190 L810,150 L830,436 L480,430 L290,392 Z" fill="url(#gT2)"/>
<path d="M808,150 L1095,118 Q1118,250 1110,416 L830,437 Z" fill="url(#gT1)"/>
<path d="M812,150 Q835,290 830,436" stroke="#0a0a0a" stroke-width="12" fill="none"/>
<path d="M300,300 L800,270" stroke="#9a9a9a" stroke-width="14" fill="none" opacity="0.7"/>
<path d="M1095,118 Q1118,250 1110,416" stroke="#111" stroke-width="10" fill="none"/>
<!-- DRE43 -->
<path d="M520,740 L1110,632 Q1150,700 1165,800 L1170,950 L1120,965 L800,1010 L640,1060 L490,1100 L380,1180 L320,1180 L310,1000 L420,980 Z" fill="url(#gN1)"/>
<path d="M520,740 L1110,632 Q1150,700 1165,800 L1170,950 L1120,965 L800,1010 L640,1060 L490,1100 L380,1180 L320,1180 L310,1000 L420,980 Z" fill="url(#hatch)"/>
<path d="M1110,632 Q1150,700 1165,800 L1170,950 L1120,965 Q1125,800 1075,640 Z" fill="#3a3a3a" opacity="0.6"/>
<path d="M235,700 L400,722 L345,955 L100,945 L150,855 L245,848 Q320,850 318,800 Q300,775 255,785 L200,770 Z" fill="#5a5a5a"/>
<path d="M255,785 Q300,775 318,800 Q320,850 270,850 Q300,820 255,785 Z" fill="#2a2a2a"/>
<path d="M100,945 L345,958 L318,1000 L312,1130 L180,1110 Z" fill="#3a3a3a"/>
<path d="M410,680 L470,690 L520,740 L425,985 L318,1003 L345,955 Z" fill="#565656"/>
<path d="M318,1003 L425,985 L500,960 L490,1100 L380,1180 L320,1180 Z" fill="#4e4e4e"/>
<text transform="translate(395,925) rotate(-78)" font-size="30" style="fill:#777" textLength="210" lengthAdjust="spacingAndGlyphs">DYNABRADE</text>
<ellipse cx="422" cy="1085" rx="52" ry="28" transform="rotate(-28 422 1085)" fill="#9a9a9a"/>
<ellipse cx="415" cy="1092" rx="38" ry="18" transform="rotate(-28 415 1092)" fill="#2c2c2c"/>
<!-- XAQDD screw -->
<path d="M495,1150 L605,1150 Q625,1132 655,1140 Q668,1165 655,1190 Q625,1196 605,1176 L495,1176 Z" fill="#0a0a0a"/>
</g>

<!-- 56_bottom.svg -->
<defs>
<linearGradient id="gNose" x1="0" y1="0" x2="1" y2="0"><stop offset="0" stop-color="#555"/><stop offset="0.12" stop-color="#6c6c6c"/><stop offset="0.3" stop-color="#787878"/><stop offset="0.55" stop-color="#585858"/><stop offset="0.8" stop-color="#3a3a3a"/><stop offset="1" stop-color="#2c2c2c"/></linearGradient>
<linearGradient id="gG40" x1="0" y1="0" x2="1" y2="0"><stop offset="0" stop-color="#4a4a4a"/><stop offset="0.35" stop-color="#3e3e3e"/><stop offset="0.8" stop-color="#474747"/><stop offset="1" stop-color="#585858"/></linearGradient>
<linearGradient id="gG39" x1="0" y1="0" x2="1" y2="0"><stop offset="0" stop-color="#444"/><stop offset="0.5" stop-color="#3a3a3a"/><stop offset="1" stop-color="#4a4a4a"/></linearGradient>
<radialGradient id="gD17" cx="0.5" cy="0.5" r="0.5"><stop offset="0" stop-color="#5e5e5e"/><stop offset="0.4" stop-color="#555"/><stop offset="0.45" stop-color="#484848"/><stop offset="1" stop-color="#474747"/></radialGradient>
<linearGradient id="gBrg" x1="0" y1="0" x2="1" y2="0"><stop offset="0" stop-color="#0c0c0c"/><stop offset="0.4" stop-color="#1a1a1a"/><stop offset="0.55" stop-color="#d0d0d0"/><stop offset="0.7" stop-color="#555"/><stop offset="0.85" stop-color="#c0c0c0"/><stop offset="1" stop-color="#222"/></linearGradient>
</defs>
<!-- nose plate -->
<path d="M117,1378 Q118,1371 124,1369 L149,1364.5 L149,1353.5 Q150,1347.5 157,1347 L194,1344.6 L840,1343.3 L863,1349.3 L913.6,1349.3 L914.8,1391.3 L878,1402 L765,1403.5 L540,1405.5 L325,1405.8 L325,1398.3 L250,1396.4 L175,1394.6 L126,1389 Z" fill="url(#gNose)"/>
<path d="M117,1378 Q118,1371 124,1369 L149,1364.5 L288,1366.5 L296,1377.5 L325,1379 L560,1380 L700,1381 L840,1383 L878,1402 L765,1403.5 L540,1405.5 L325,1405.8 L325,1398.3 L250,1396.4 L175,1394.6 L126,1389 Z" fill="#000" opacity="0.36"/>
<path d="M149,1353.5 L149,1364.5 L288,1366.5 L296,1377.5" stroke="#4a4a4a" stroke-width="1.5" fill="none"/>
<path d="M560,1380 L840,1383 L878,1402 L560,1405.5 Z" fill="#000" opacity="0.25"/>
<path d="M863,1349.3 L913.6,1349.3 L914.8,1391.3 L878,1402 L862,1385 Z" fill="#3d3d3d"/>
<path d="M840,1343.3 L863,1349.3 L862,1385 L878,1402 L850,1400 L845,1360 Z" fill="#262626"/>
<rect x="350" y="1388" width="20" height="13" fill="#8a8a8a"/>
<rect x="376" y="1387" width="38" height="8" rx="3" fill="#858585"/>
<rect x="648" y="1387" width="40" height="8" rx="3" fill="#333"/>
<rect x="770" y="1386" width="52" height="14" fill="#3a3a3a"/>
<!-- DRE20 knob -->
<rect x="437" y="1304" width="6.5" height="17" fill="#8a8a8a"/>
<path d="M430.5,1293 L447.5,1293 L446,1306 L432,1306 Z" fill="#0a0a0a"/>
<ellipse cx="438" cy="1282" rx="28" ry="16" fill="#0a0a0a"/>
<!-- belt -->
<path d="M977,1429 C 968,1416 900,1416 800,1417 C 700,1418 600,1419 560,1421 C 480,1425 400,1432 372,1442 C 350,1450 352,1460 372,1466 C 400,1474 470,1473 540,1463 C 600,1457 700,1451 765,1448 C 850,1445 940,1443 965,1438 C 976,1435 980,1432 977,1429 Z" fill="none" stroke="#0a0a0a" stroke-width="6.4" stroke-linejoin="round"/>
<path d="M505,1469.5 L540,1465" stroke="#bbb" stroke-width="2.4" stroke-dasharray="2 2.5"/>
<!-- DRE40 guard -->
<g transform="translate(380,1460) scale(0.45714)">
<path d="M35,55 L960,35 L1145,72 L1140,160 L960,200 L70,213 Q120,160 100,120 Q80,80 35,55 Z" fill="url(#gG40)"/>
<circle cx="148" cy="133" r="12" fill="#fff"/><ellipse cx="633" cy="125" rx="15" ry="10" fill="#fff"/>
<rect x="113" y="179" width="232" height="14" rx="7" fill="#fff"/>
<path d="M55,245 L1045,232 L1100,280 L1190,272 Q1197,278 1195,287 L1150,350 L1100,355 L1045,385 L105,410 Q160,360 140,318 Q115,275 55,245 Z" fill="url(#gG39)"/>
<circle cx="180" cy="333" r="10" fill="#fff"/><ellipse cx="731" cy="324" rx="13" ry="9" fill="#fff"/>
<rect x="146" y="377" width="248" height="13" rx="6.5" fill="#fff"/>
</g>
<!-- left stack -->
<g transform="translate(20,1390) scale(0.37551)">
<path d="M523,62 Q552,52 582,62 L580,88 L574,92 L572,130 Q552,140 532,130 L530,92 L524,88 Z" fill="#2b2b2b"/>
<path d="M536,70 L548,70 L548,128 L538,128 Z" fill="#6a6a6a"/>
<rect x="478" y="152" width="148" height="48" rx="10" fill="url(#gBrg)"/>
<!-- DRE015 -->
<ellipse cx="552" cy="256" rx="172" ry="34" fill="#2a2a2a"/>
<ellipse cx="552" cy="246" rx="140" ry="20" fill="#5a5a5a"/>
<ellipse cx="560" cy="240" rx="90" ry="11" fill="#8a8a8a"/>
<ellipse cx="552" cy="258" rx="120" ry="14" fill="#2a2a2a"/>
<path d="M385,258 Q290,275 232,345 L860,345 Q810,280 720,258 Z" fill="#0a0a0a"/>
<ellipse cx="545" cy="352" rx="318" ry="95" fill="#0a0a0a"/>
<ellipse cx="535" cy="380" rx="150" ry="34" fill="#1a1a1a"/>
<ellipse cx="533" cy="374" rx="126" ry="24" fill="#8c8c8c"/>
<ellipse cx="533" cy="378" rx="100" ry="14" fill="#a8a8a8"/>
<ellipse cx="546" cy="366" rx="52" ry="12" fill="#5a5a5a"/>
<ellipse cx="556" cy="362" rx="24" ry="7" fill="#b8b8b8"/>
<!-- DRE017 -->
<ellipse cx="565" cy="616" rx="486" ry="127" fill="#474747"/>
<ellipse cx="556" cy="626" rx="215" ry="58" fill="#565656"/>
<ellipse cx="556" cy="628" rx="150" ry="42" fill="#4c4c4c"/>
<ellipse cx="553" cy="625" rx="60" ry="20" fill="#fff"/>
<!-- DRE61 -->
<ellipse cx="545" cy="783" rx="42" ry="9" fill="#0a0a0a"/>
<ellipse cx="545" cy="828" rx="113" ry="37" fill="#4e4e4e"/>
<ellipse cx="545" cy="824" rx="100" ry="30" fill="#6c6c6c"/>
<ellipse cx="545" cy="820" rx="66" ry="24" fill="#3a3a3a"/>
<ellipse cx="548" cy="815" rx="22" ry="10" fill="#1e1e1e"/>
<!-- DRE63 -->
<path d="M530,890 Q530,876 551,876 Q572,876 572,890 L572,972 Q602,980 600,998 Q560,1025 515,998 Q514,980 530,972 Z" fill="#0a0a0a"/>
</g>
<!-- XOEF / DREH3 -->
<ellipse cx="739.5" cy="1668" rx="9.5" ry="4.5" fill="none" stroke="#111" stroke-width="2.2" stroke-dasharray="2 1.2"/>
<rect x="738" y="1681" width="5.5" height="16" fill="#8a8a8a"/>
<path d="M733,1696 L748,1696 L747,1703 L735,1704 Z" fill="#9a9a9a"/>

<path d="M20.9,252 L20.9,288" stroke="#c8c8c8" stroke-width="1" fill="none"/>

<!-- 80_leaders.svg -->
<g class="l" stroke-width="2.6">
<path d="M712,1095 L735,1098" stroke-width="3"/>
<path d="M747,1171.5 L791,1163.5"/>
<path d="M766.5,1229 L793.5,1229" stroke-width="3.2"/>
<path d="M731,1015 L784.5,1045"/>
<path d="M1069.5,1117.5 L964.5,1172.5"/>
<path d="M984.5,1030 L997,1030" stroke-width="3.2"/>
<path d="M1149.5,992.5 L1172,992.5" stroke-width="3"/>
<path d="M1160.5,1042.5 L1172,1042.5" stroke-width="4"/>
<path d="M1139.5,1222.5 L1139.5,1233" stroke-width="3"/>
<path d="M936,1308.5 L1019.5,1321.5"/>
<path d="M1094.5,1370 L1114.5,1389" stroke-width="3"/>
<path d="M977,1430 L994.5,1441.5" stroke-width="3.4"/>
<path d="M990.5,837.5 L990.5,852" stroke-width="3"/>
</g>
<g class="l" stroke-width="2.8">
<path d="M196.5,1425.7 L217,1425.7"/>
<path d="M254.7,1455.7 L271,1455.7"/>
<path d="M126.3,1488.4 L164.6,1488.4"/>
<path d="M80,1668 L93,1651"/>
<path d="M266,1686.7 L386,1677.3"/>
<path d="M264,1698.7 L284.7,1698.7"/>
<path d="M236,1752.4 L250,1752.4"/>
<path d="M191.3,1323.2 L191.3,1344"/>
<path d="M466,1283 L477.5,1283"/>
<path d="M899,1515 L924,1518" stroke-width="2.2"/>
<path d="M908,1613 L940,1613" stroke-width="3"/>
<path d="M748,1667.5 L768,1667.5" stroke-width="2"/>
<path d="M747,1691.5 L769.5,1697.5" stroke-width="2"/>
</g>
<g class="l" stroke-width="1.7" transform="translate(10,200) scale(0.3102)">
<path d="M415,162 L575,88" stroke-width="5"/>
<path d="M775,270 L915,200" stroke-width="5"/>
<path d="M862,432 L1040,352" stroke-width="5"/>
</g>
<g class="l" stroke-width="5" transform="translate(360,50) scale(0.3102)">
<path d="M135,205 L240,155"/>
<path d="M632,185 L765,125 L770,115 L788,115"/>
<path d="M775,250 L900,190 L950,190"/>
<path d="M690,760 L775,800"/>
</g>
<g class="l" stroke-width="5" transform="translate(590,120) scale(0.3102)">
<path d="M437,158 L495,128 L520,125"/>
<path d="M778,405 L955,325"/>
<path d="M945,476 L995,450"/>
</g>
<g class="l" stroke="#666" stroke-width="0.9">
<path d="M515,298 L943,497 L943,316 L930,310"/>
<path d="M880,301 L930,311" stroke-dasharray="6 5" stroke="#aaa"/>
</g>
<g class="l" stroke-width="5" transform="translate(350,330) scale(0.3102)">
<path d="M60,120 L270,25 L285,35"/>
<path d="M390,245 L580,160"/>
<path d="M795,485 L940,415 L990,360"/>
<path d="M865,545 L1000,475 L1050,435"/>
<path d="M975,570 L1075,520"/>
</g>
<g class="l" stroke-width="5.2" transform="translate(650,450) scale(0.2857)">
<path d="M275,178 L435,100"/>
<path d="M480,200 L545,165"/>
</g>
<g class="l" stroke-width="5" transform="translate(20,470) scale(0.29388)">
<path d="M115,70 L155,20" stroke-width="3.5"/>
<path d="M1070,315 L1170,260 L1195,265"/>
<path d="M295,700 L295,790 L190,805" stroke-width="4"/>
<path d="M110,815 L105,880 L80,890 L80,920 L100,925" stroke-width="4"/>
<path d="M960,875 L865,915 L862,960" stroke-width="4"/>
</g>
<g class="l" stroke-width="4.6" transform="translate(370,620) scale(0.3102)">
<path d="M360,170 L490,105" stroke-width="5"/>
<path d="M980,325 L1060,285" stroke-width="5"/>
<path d="M1085,480 L865,770 L862,790"/>
<path d="M862,850 L865,935 L770,990"/>
<path d="M745,790 L775,762 L860,815"/>
</g>
<g class="l" stroke-width="6" transform="translate(150,740) scale(0.2449)">
<path d="M285,375 L375,340"/>
<path d="M410,755 L510,720"/>
<path d="M600,270 L605,605 L680,610" stroke-width="5"/>
<path d="M760,370 L755,450 L735,520 L750,535" stroke-width="5"/>
</g>

<!-- 90_text.svg -->
<text class="b" x="396" y="50.9" font-size="51" textLength="391" lengthAdjust="spacingAndGlyphs">DRE10 &amp; DRE13</text>
<text x="79" y="92.2" font-size="20.8" textLength="73.5" lengthAdjust="spacingAndGlyphs">GV7000</text>
<text x="79" y="116.2" font-size="20.8" textLength="75" lengthAdjust="spacingAndGlyphs">MAKITA</text>
<text x="79" y="140.2" font-size="20.8" textLength="92" lengthAdjust="spacingAndGlyphs">USED ON</text>
<text x="79" y="164.2" font-size="20.8" textLength="191" lengthAdjust="spacingAndGlyphs">DRE10,DRE13, DSE</text>
<text x="346" y="139.7" font-size="24" textLength="98" lengthAdjust="spacingAndGlyphs">DREM02</text>
<text x="192.5" y="226.7" font-size="20.8" textLength="81.5" lengthAdjust="spacingAndGlyphs">DREM35</text>
<text x="298.5" y="267.7" font-size="20.8" textLength="82.5" lengthAdjust="spacingAndGlyphs">DREM04</text>
<text x="321.5" y="304.2" font-size="20.8" textLength="46" lengthAdjust="spacingAndGlyphs">#608</text>
<text x="440" y="349.2" font-size="20.8" textLength="82.5" lengthAdjust="spacingAndGlyphs">DREM12</text>
<text x="536" y="378.2" font-size="20.8" textLength="97" lengthAdjust="spacingAndGlyphs">DREM01A</text>
<text x="44" y="438.2" font-size="22" textLength="78.5" lengthAdjust="spacingAndGlyphs">DREH9</text>
<text x="8" y="460.2" font-size="22" textLength="152" lengthAdjust="spacingAndGlyphs">(Thread Insert)</text>
<text x="612" y="90.2" font-size="20.8" textLength="80" lengthAdjust="spacingAndGlyphs">DREM25</text>
<text x="658" y="116.7" font-size="20.8" textLength="44" lengthAdjust="spacingAndGlyphs">6201</text>
<text x="757" y="165.7" font-size="20.8" textLength="82.5" lengthAdjust="spacingAndGlyphs">DREM19</text>
<text x="887" y="226.7" font-size="20.8" textLength="82.5" lengthAdjust="spacingAndGlyphs">DREM06</text>
<text x="893" y="254.2" font-size="20.8" textLength="95" lengthAdjust="spacingAndGlyphs">DREM08A</text>
<text x="609" y="306.7" font-size="20.8" textLength="85.5" lengthAdjust="spacingAndGlyphs">DREM21</text>
<text x="658" y="441.7" font-size="20.8" textLength="82.5" lengthAdjust="spacingAndGlyphs">DREM26</text>
<text x="677" y="466.7" font-size="20.8" textLength="82.5" lengthAdjust="spacingAndGlyphs">DREM24</text>
<text x="686" y="490.2" font-size="20.8" textLength="46" lengthAdjust="spacingAndGlyphs">#608</text>
<text x="777" y="479.2" font-size="20.8" textLength="81.5" lengthAdjust="spacingAndGlyphs">DREM36</text>
<text x="806" y="499.2" font-size="20.8" textLength="81" lengthAdjust="spacingAndGlyphs">DREM37</text>
<text x="908" y="560.2" font-size="20.8" textLength="82.5" lengthAdjust="spacingAndGlyphs">DREM38</text>
<text x="701" y="711.7" font-size="20.8" textLength="82" lengthAdjust="spacingAndGlyphs">DREM47</text>
<text x="642" y="880.2" font-size="20.8" textLength="81" lengthAdjust="spacingAndGlyphs">DREM45</text>
<text x="957" y="831.7" font-size="23.3" textLength="73" lengthAdjust="spacingAndGlyphs">DRE50</text>
<text x="382.5" y="550.7" font-size="20.8" textLength="82.5" lengthAdjust="spacingAndGlyphs">DREM54</text>
<text x="526.5" y="653.2" font-size="20.8" textLength="82.5" lengthAdjust="spacingAndGlyphs">DREM53</text>
<text x="67.5" y="723.2" font-size="20.8" textLength="82.5" lengthAdjust="spacingAndGlyphs">DREM50</text>
<text x="49" y="749.2" font-size="20.8" textLength="82" lengthAdjust="spacingAndGlyphs">DREM51</text>
<text x="269" y="765.7" font-size="20.8" textLength="81" lengthAdjust="spacingAndGlyphs">DREM52</text>
<text x="158.5" y="850.7" font-size="20.8" textLength="82.5" lengthAdjust="spacingAndGlyphs">DREM44</text>
<text x="334" y="880.2" font-size="20.8" textLength="82" lengthAdjust="spacingAndGlyphs">DREM45</text>
<text x="317.5" y="897.7" font-size="20.8" textLength="82.5" lengthAdjust="spacingAndGlyphs">DREM48</text>
<text x="188" y="943.2" font-size="20.8" textLength="82" lengthAdjust="spacingAndGlyphs">DREM17</text>
<text x="679.5" y="979.2" font-size="23.3" textLength="73.5" lengthAdjust="spacingAndGlyphs">DRE30</text>
<text x="679.5" y="1005.2" font-size="23.3" textLength="77.5" lengthAdjust="spacingAndGlyphs">Set of 4</text>
<text x="999.5" y="1036.7" font-size="23.3" textLength="56.5" lengthAdjust="spacingAndGlyphs">CE67</text>
<text x="1069.5" y="1000.2" font-size="23.3" textLength="73.5" lengthAdjust="spacingAndGlyphs">DRE60</text>
<text x="1083.5" y="1050.7" font-size="23.3" textLength="73.5" lengthAdjust="spacingAndGlyphs">DRE62</text>
<text x="629.5" y="1100.7" font-size="23.3" textLength="74" lengthAdjust="spacingAndGlyphs">DRE14</text>
<text x="1069.5" y="1113.2" font-size="23.3" textLength="74" lengthAdjust="spacingAndGlyphs">DRE05</text>
<text x="1069.5" y="1141.7" font-size="23.3" textLength="107.5" lengthAdjust="spacingAndGlyphs">DRE05-10</text>
<text x="665.5" y="1180.2" font-size="23.3" textLength="70.5" lengthAdjust="spacingAndGlyphs">DRE31</text>
<text x="688" y="1236.7" font-size="23.3" textLength="72.5" lengthAdjust="spacingAndGlyphs">DRE11</text>
<text x="1104.5" y="1253.2" font-size="23.3" textLength="72.5" lengthAdjust="spacingAndGlyphs">DRE41</text>
<text class="b" x="858.5" y="1313.2" font-size="21.5" textLength="69.5" lengthAdjust="spacingAndGlyphs">DRE43</text>
<text class="b" x="1114.5" y="1399.2" font-size="21.7" textLength="78.5" lengthAdjust="spacingAndGlyphs">XAQDD</text>
<text x="996" y="1431.7" font-size="23.3" textLength="156" lengthAdjust="spacingAndGlyphs">3L310 (for 13&quot;)</text>
<text x="996" y="1460.2" font-size="23.3" textLength="156" lengthAdjust="spacingAndGlyphs">3L250 (for 10&quot;)</text>
<text class="dj" x="934.5" y="1494.2" font-size="20.6" textLength="99" lengthAdjust="spacingAndGlyphs">New Style</text>
<text class="dj" x="934.5" y="1518.2" font-size="20.6" textLength="99" lengthAdjust="spacingAndGlyphs">DRE40-13</text>
<text class="dj" x="934.5" y="1541.7" font-size="20.6" textLength="99" lengthAdjust="spacingAndGlyphs">DRE40-10</text>
<text class="dj" x="939.5" y="1584.2" font-size="20.6" textLength="90" lengthAdjust="spacingAndGlyphs">Old Style</text>
<text class="dj" x="939.5" y="1607.7" font-size="20.6" textLength="98.5" lengthAdjust="spacingAndGlyphs">DRE39-13</text>
<text class="dj" x="939.5" y="1631.7" font-size="20.6" textLength="98.5" lengthAdjust="spacingAndGlyphs">DRE39-10</text>
<text class="dj" x="776" y="1675.2" font-size="20.6" textLength="55" lengthAdjust="spacingAndGlyphs">XOEF</text>
<text class="dj" x="776" y="1704.2" font-size="20.6" textLength="74.5" lengthAdjust="spacingAndGlyphs">DREH3</text>
<text x="118.5" y="1289.2" font-size="23.3" textLength="240.5" lengthAdjust="spacingAndGlyphs">DRE13-NOSE (for 13&quot;)</text>
<text x="118.5" y="1317.7" font-size="23.3" textLength="237.5" lengthAdjust="spacingAndGlyphs">DRE10-NOSE (for 10&quot;)</text>
<text x="480" y="1291.7" font-size="23.3" textLength="74" lengthAdjust="spacingAndGlyphs">DRE20</text>
<text x="118.5" y="1419.2" font-size="23.3" textLength="74" lengthAdjust="spacingAndGlyphs">DRE02</text>
<text x="25" y="1446.7" font-size="23.3" textLength="167.5" lengthAdjust="spacingAndGlyphs">old style DRE03</text>
<text x="272.5" y="1462.7" font-size="23.3" textLength="50" lengthAdjust="spacingAndGlyphs">6203</text>
<text x="32.5" y="1495.2" font-size="23.3" textLength="87.5" lengthAdjust="spacingAndGlyphs">DRE015</text>
<text x="31.5" y="1691.7" font-size="23.3" textLength="87" lengthAdjust="spacingAndGlyphs">DRE017</text>
<text x="393.5" y="1682.7" font-size="23.3" textLength="311" lengthAdjust="spacingAndGlyphs">old style DRE27L spanner nut</text>
<text x="436.5" y="1711.7" font-size="23.3" textLength="267.5" lengthAdjust="spacingAndGlyphs">DREM07 spanner wrench</text>
<text x="291.5" y="1709.2" font-size="23.3" textLength="72.5" lengthAdjust="spacingAndGlyphs">DRE61</text>
<text x="251" y="1745.2" font-size="23.3" textLength="199" lengthAdjust="spacingAndGlyphs">DRE63 (for 7&quot; pad)</text>
<text x="251" y="1774.2" font-size="23.3" textLength="199" lengthAdjust="spacingAndGlyphs">XAFGD (for 5&quot; pad)</text>
</svg>
</body></html>
